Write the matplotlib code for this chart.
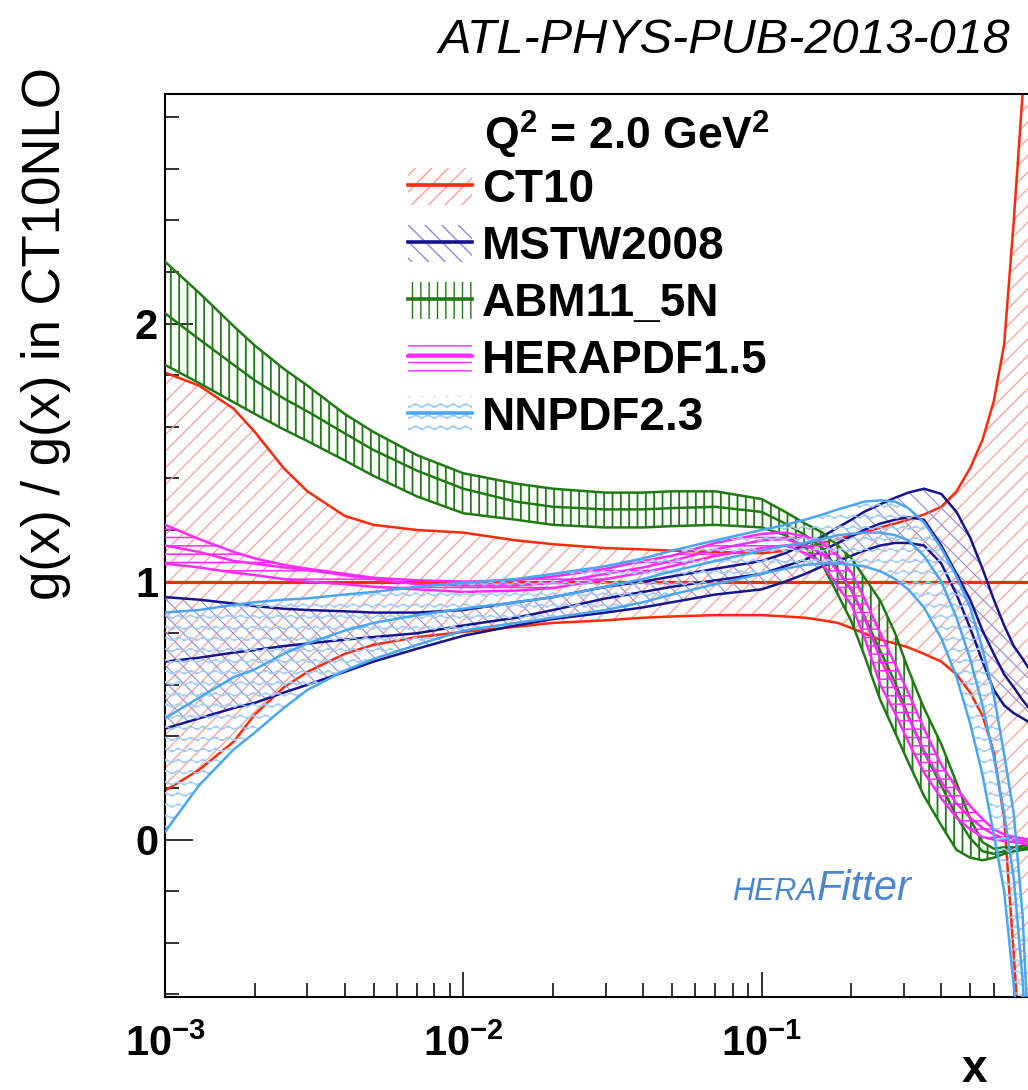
import numpy as np
import matplotlib
matplotlib.use('Agg')
import matplotlib.pyplot as plt
import matplotlib.hatch as mhatch
from matplotlib.path import Path as MPath
from matplotlib.patches import Patch
from matplotlib.lines import Line2D
from matplotlib.ticker import FixedLocator, MultipleLocator, FuncFormatter, NullFormatter

plt.rcParams['font.family'] = ['Liberation Sans', 'DejaVu Sans']
plt.rcParams['mathtext.fontset'] = 'custom'
plt.rcParams['mathtext.rm'] = 'Liberation Sans'
plt.rcParams['mathtext.bf'] = 'Liberation Sans:bold'
plt.rcParams['mathtext.it'] = 'Liberation Sans:italic'
plt.rcParams['hatch.linewidth'] = 1.0


# wavy hatch (used for the NNPDF band), mapped onto the 'o' hatch character
class WaveHatch(mhatch.HatchPatternBase):
    def __init__(self, hatch, density):
        self.num_rows = int(hatch.count('o') * density * 0.75)
        self.pts = 81
        self.num_vertices = self.num_rows * self.pts

    def set_vertices_and_codes(self, vertices, codes):
        t = np.linspace(0.0, 1.0, self.pts)
        for r in range(self.num_rows):
            y0 = (r + 0.5) / self.num_rows
            a, b = r * self.pts, (r + 1) * self.pts
            vertices[a:b, 0] = t
            vertices[a:b, 1] = y0 + 0.017 * np.sin(2 * np.pi * 8 * t)
            codes[a:b] = MPath.LINETO
            codes[a] = MPath.MOVETO


wave = 'oo'
try:
    mhatch._hatch_types = [WaveHatch if t is mhatch.SmallCircles else t
                           for t in mhatch._hatch_types]
except Exception:
    wave = '--'

# ---------------- data (ratio to CT10 NLO central) ----------------
x = [0.001, 0.0013, 0.0017, 0.002, 0.0025, 0.003, 0.004, 0.005, 0.007, 0.01, 0.015, 0.02,
     0.03, 0.04, 0.05, 0.07, 0.1, 0.12, 0.14, 0.16, 0.18, 0.2, 0.22, 0.25, 0.28, 0.31,
     0.35, 0.4, 0.45, 0.5, 0.55, 0.6, 0.65, 0.7, 0.75, 0.8]

ct10_cen = [1.0] * 36
ct10_up = [1.81, 1.76, 1.67, 1.58, 1.44, 1.35, 1.255, 1.22, 1.20, 1.19, 1.16, 1.145,
           1.13, 1.125, 1.12, 1.115, 1.11, 1.12, 1.13, 1.15, 1.165, 1.18, 1.19, 1.21, 1.225, 1.24,
           1.26, 1.29, 1.35, 1.44, 1.55, 1.70, 1.92, 2.40, 2.90, 3.60]
ct10_dn = [0.19, 0.27, 0.38, 0.485, 0.59, 0.65, 0.72, 0.755, 0.785, 0.805, 0.825, 0.84,
           0.85, 0.86, 0.865, 0.87, 0.87, 0.865, 0.86, 0.85, 0.84, 0.82, 0.80, 0.775, 0.76, 0.745,
           0.72, 0.69, 0.64, 0.57, 0.48, 0.34, 0.08, -0.45, -0.95, -1.50]

mstw_up = [0.94, 0.93, 0.915, 0.905, 0.895, 0.89, 0.885, 0.88, 0.88, 0.89, 0.92, 0.94,
           0.98, 1.00, 1.02, 1.05, 1.08, 1.11, 1.145, 1.175, 1.21, 1.24, 1.27, 1.30, 1.325, 1.345,
           1.36, 1.34, 1.27, 1.17, 1.05, 0.93, 0.83, 0.75, 0.70, 0.65]
mstw_cen = [0.69, 0.705, 0.725, 0.735, 0.75, 0.76, 0.775, 0.785, 0.80, 0.83, 0.86, 0.89,
            0.935, 0.96, 0.98, 1.005, 1.03, 1.06, 1.085, 1.12, 1.15, 1.175, 1.20, 1.225, 1.24, 1.25,
            1.24, 1.14, 1.03, 0.93, 0.81, 0.72, 0.64, 0.59, 0.54, 0.50]
mstw_dn = [0.43, 0.47, 0.51, 0.53, 0.57, 0.60, 0.65, 0.69, 0.74, 0.79, 0.83, 0.855,
           0.88, 0.90, 0.92, 0.95, 0.97, 1.00, 1.03, 1.06, 1.08, 1.10, 1.12, 1.14, 1.15, 1.15,
           1.14, 1.07, 0.95, 0.82, 0.69, 0.58, 0.52, 0.49, 0.47, 0.45]

abm_up = [2.24, 2.12, 1.99, 1.915, 1.825, 1.76, 1.65, 1.58, 1.49, 1.42, 1.38, 1.36,
          1.345, 1.345, 1.35, 1.35, 1.32, 1.27, 1.225, 1.19, 1.14, 1.09, 1.02, 0.925, 0.80, 0.66,
          0.51, 0.37, 0.22, 0.08, -0.01, -0.035, -0.03, -0.03, -0.025, -0.02]
abm_cen = [2.04, 1.94, 1.84, 1.78, 1.71, 1.66, 1.575, 1.51, 1.43, 1.36, 1.31, 1.29,
           1.28, 1.28, 1.285, 1.29, 1.27, 1.225, 1.18, 1.13, 1.045, 0.965, 0.87, 0.73, 0.61, 0.48,
           0.34, 0.21, 0.09, 0.005, -0.045, -0.055, -0.045, -0.04, -0.035, -0.03]
abm_dn = [1.84, 1.77, 1.695, 1.65, 1.59, 1.545, 1.47, 1.41, 1.33, 1.265, 1.24, 1.22,
          1.21, 1.21, 1.215, 1.22, 1.21, 1.18, 1.13, 1.065, 0.95, 0.845, 0.72, 0.54, 0.415, 0.30,
          0.17, 0.055, -0.04, -0.07, -0.08, -0.07, -0.055, -0.045, -0.04, -0.035]

hera_up = [1.22, 1.165, 1.115, 1.09, 1.065, 1.05, 1.03, 1.015, 1.005, 1.00, 1.005, 1.02,
           1.05, 1.08, 1.10, 1.15, 1.185, 1.19, 1.175, 1.15, 1.10, 1.035, 0.94, 0.80, 0.68, 0.57,
           0.43, 0.29, 0.20, 0.13, 0.08, 0.04, 0.02, 0.01, 0.005, 0.0]
hera_cen = [1.14, 1.115, 1.08, 1.07, 1.055, 1.045, 1.025, 1.01, 0.99, 0.985, 0.985, 0.995,
            1.03, 1.055, 1.08, 1.125, 1.16, 1.165, 1.14, 1.11, 1.04, 0.97, 0.865, 0.70, 0.585, 0.475,
            0.345, 0.225, 0.14, 0.085, 0.045, 0.02, 0.005, 0.0, -0.005, -0.01]
hera_dn = [1.07, 1.055, 1.035, 1.025, 1.01, 1.00, 0.99, 0.98, 0.97, 0.96, 0.965, 0.975,
           1.01, 1.035, 1.06, 1.10, 1.13, 1.14, 1.11, 1.07, 0.98, 0.91, 0.79, 0.60, 0.49, 0.38,
           0.26, 0.16, 0.085, 0.04, 0.01, 0.0, -0.005, -0.01, -0.015, -0.02]

nnpdf_up = [0.88, 0.89, 0.91, 0.92, 0.93, 0.935, 0.95, 0.96, 0.98, 0.995, 1.01, 1.03,
            1.06, 1.09, 1.12, 1.16, 1.20, 1.22, 1.24, 1.26, 1.28, 1.295, 1.31, 1.315, 1.31, 1.285,
            1.23, 1.13, 1.02, 0.90, 0.74, 0.56, 0.33, 0.10, -0.30, -1.0]
nnpdf_cen = [0.47, 0.55, 0.63, 0.66, 0.72, 0.76, 0.81, 0.84, 0.87, 0.895, 0.92, 0.94,
             0.98, 1.01, 1.04, 1.08, 1.12, 1.14, 1.15, 1.165, 1.18, 1.185, 1.19, 1.19, 1.18, 1.16,
             1.10, 1.00, 0.86, 0.70, 0.52, 0.32, 0.10, -0.15, -0.55, -1.2]
nnpdf_dn = [0.03, 0.21, 0.35, 0.415, 0.51, 0.58, 0.655, 0.70, 0.755, 0.81, 0.84, 0.86,
            0.89, 0.92, 0.95, 0.99, 1.03, 1.05, 1.065, 1.07, 1.07, 1.065, 1.06, 1.04, 1.01, 0.97,
            0.90, 0.78, 0.63, 0.45, 0.25, 0.02, -0.20, -0.57, -1.0, -1.6]

labels = ['CT10', 'MSTW2008', 'ABM11_5N', 'HERAPDF1.5', 'NNPDF2.3']
line_colors = ['#ff2a0a', '#14148f', '#1f7a14', '#ff2bff', '#4aa6f2']
hatch_colors = ['#f7a09a', '#8c8cd8', '#1f7a14', '#ff2bff', '#9fcbf5']
hatches = ['//', '\\\\', '||', '--', wave]
hatch_lws = [0.9, 0.8, 1.3, 1.1, 0.8]
bands = [(ct10_dn, ct10_up, ct10_cen), (mstw_dn, mstw_up, mstw_cen),
         (abm_dn, abm_up, abm_cen), (hera_dn, hera_up, hera_cen),
         (nnpdf_dn, nnpdf_up, nnpdf_cen)]

# ---------------- figure ----------------
W, H = 1028, 1090
fig = plt.figure(figsize=(W / 100, H / 100), dpi=100)
ax = fig.add_axes([165 / W, 1 - 997 / H, (1060 - 165) / W, (997 - 94) / H])
ax.set_xscale('log')
ax.set_xlim(1e-3, 1)
ax.set_ylim(-0.61, 2.89)

handles = []
for i, ((lo, hi, cen), lc, hc, hat, hlw) in enumerate(zip(bands, line_colors, hatch_colors, hatches, hatch_lws)):
    z = 2 + i
    coll = ax.fill_between(x, lo, hi, facecolor='none', edgecolor=hc, hatch=hat,
                           linewidth=0, zorder=z)
    if hasattr(coll, 'set_hatch_linewidth'):
        coll.set_hatch_linewidth(hlw)
    lw_c = 2.3 if i == 0 else 1.8
    ax.plot(x, lo, color=lc, lw=1.8, zorder=z + 0.1)
    ax.plot(x, hi, color=lc, lw=1.8, zorder=z + 0.1)
    ax.plot(x, cen, color=lc, lw=lw_c, zorder=z + 0.2)
    p = Patch(facecolor='none', edgecolor=hc, hatch=hat, linewidth=0)
    if hasattr(p, 'set_hatch_linewidth'):
        p.set_hatch_linewidth(hlw)
    handles.append((p, Line2D([], [], color=lc, lw=2.6)))

# axes styling
for s in ax.spines.values():
    s.set_linewidth(1.5)
ax.yaxis.set_major_locator(FixedLocator([0, 1, 2]))
ax.yaxis.set_minor_locator(MultipleLocator(0.2))
ax.xaxis.set_major_locator(FixedLocator([1e-3, 1e-2, 1e-1]))
minors = [m * 10.0 ** e for e in (-3, -2, -1) for m in range(2, 10)]
ax.xaxis.set_minor_locator(FixedLocator(minors))
ax.xaxis.set_minor_formatter(NullFormatter())
ax.xaxis.set_major_formatter(FuncFormatter(lambda v, p: r'$\mathbf{10^{%d}}$' % int(round(np.log10(v)))))
ax.yaxis.set_major_formatter(FuncFormatter(lambda v, p: '%d' % int(round(v))))
ax.tick_params(axis='both', which='both', direction='in', top=False, right=False, color='#222222')
ax.tick_params(axis='y', which='major', length=20, width=1.3, pad=5, labelsize=30)
ax.tick_params(axis='y', which='minor', length=10, width=1.3)
ax.tick_params(axis='x', which='major', length=18, width=1.3, pad=20, labelsize=30)
ax.tick_params(axis='x', which='minor', length=10, width=1.3)
for lbl in ax.get_yticklabels():
    lbl.set_fontweight('bold')

# axis titles
fig.text(974 / W, 1 - 1082 / H, 'x', fontsize=33, fontweight='bold', ha='center', va='baseline')
fig.text(46 / W, 1 - 334 / H, 'g(x) / g(x) in CT10NLO', fontsize=38, rotation=90,
         ha='center', va='center')
fig.text(1010 / W, 1 - 53 / H, 'ATL-PHYS-PUB-2013-018', fontsize=35, style='italic',
         ha='right', va='baseline')

# legend
fig.text(484 / W, 1 - 150 / H, r'Q$^{\mathbf{2}}$ = 2.0 GeV$^{\mathbf{2}}$', fontsize=32,
         fontweight='bold', ha='left', va='baseline')
leg = ax.legend(handles, labels, loc='upper left', bbox_to_anchor=(408 / W, 1 - 168 / H),
                bbox_transform=fig.transFigure, frameon=False, borderpad=0, borderaxespad=0,
                prop={'weight': 'bold', 'size': 33}, handlelength=1.4, handleheight=0.85,
                handletextpad=0.22, labelspacing=0.28)
leg.set_zorder(20)

# HERAFitter logo text
ax.text(0.7285, 0.107, 'HERA', transform=ax.transAxes, fontsize=22, style='italic',
        color='#4a86d0', ha='right', va='baseline')
ax.text(0.7285, 0.107, 'Fitter', transform=ax.transAxes, fontsize=30, style='italic',
        color='#4a86d0', ha='left', va='baseline')

fig.savefig('out.png', dpi=100)
